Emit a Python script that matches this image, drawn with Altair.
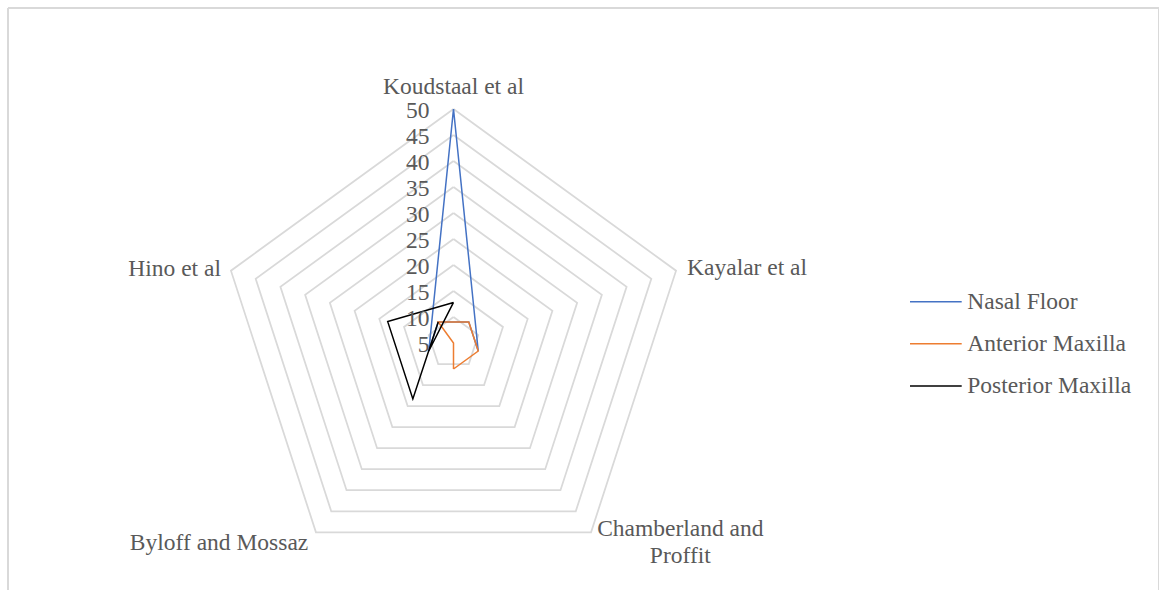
import math
import altair as alt
import pandas as pd

# ---------------- data ----------------
categories = ["Koudstaal et al", "Kayalar et al", "Chamberland and Proffit",
              "Byloff and Mossaz", "Hino et al"]
series_names = ["Nasal Floor", "Anterior Maxilla", "Posterior Maxilla"]
nasal_floor = [50, 0, 0, 0, 0]
anterior_maxilla = [0, 5, 0, 0, 0]
posterior_maxilla = [12.8, 0, 0, 18.3, 18.3]
tick_values = [5, 10, 15, 20, 25, 30, 35, 40, 45, 50]
axis_min, axis_max = 5, 50
colors = ["#4472C4", "#ED7D31", "#000000"]

# ---------------- layout / style ----------------
W, H = 1151, 582          # plot area
CX, CY, R = 445.5, 335.0, 234.0   # radar centre & radius inside plot area (px)
FONT = "Liberation Serif"
FS = 23.5
TXT = "#595959"
GRID = "#d9d9d9"

n = len(categories)


def polar(value, i):
    r = (value - axis_min) / (axis_max - axis_min)
    a = 2 * math.pi * i / n
    return r * math.sin(a), r * math.cos(a)


# series polygons
rows = []
for name, vals in zip(series_names, [nasal_floor, anterior_maxilla, posterior_maxilla]):
    for k in range(n + 1):
        i = k % n
        x, y = polar(vals[i], i)
        rows.append({"series": name, "category": categories[i], "value": vals[i],
                     "order": k, "x": x, "y": y})
series_df = pd.DataFrame(rows)

# grid polygons
grows = []
for t in tick_values[1:]:
    for k in range(n + 1):
        i = k % n
        x, y = polar(t, i)
        grows.append({"level": t, "order": k, "x": x, "y": y})
grid_df = pd.DataFrame(grows)

# tick labels
tick_df = pd.DataFrame({"label": [str(t) for t in tick_values],
                        "x": [polar(t, 0)[0] for t in tick_values],
                        "y": [polar(t, 0)[1] for t in tick_values]})

# category labels
display = {c: c for c in categories}
display["Chamberland and Proffit"] = "Chamberland and\nProffit"
cat_df = pd.DataFrame({"category": categories,
                       "text": [display[c] for c in categories],
                       "x": [polar(axis_max, i)[0] for i in range(n)],
                       "y": [polar(axis_max, i)[1] for i in range(n)]})

legend_df = pd.DataFrame({"series": series_names})

xs = alt.Scale(domain=[-CX / R, (W - CX) / R], nice=False, zero=False)
ys = alt.Scale(domain=[-(H - CY) / R, CY / R], nice=False, zero=False)
X = alt.X("x:Q", scale=xs, axis=None)
Y = alt.Y("y:Q", scale=ys, axis=None)
color = alt.Color("series:N", scale=alt.Scale(domain=series_names, range=colors), legend=None)

grid = alt.Chart(grid_df).mark_line(color=GRID, strokeWidth=1.75).encode(
    x=X, y=Y, detail="level:N", order="order:Q")

lines = alt.Chart(series_df).mark_line(strokeWidth=1.5).encode(
    x=X, y=Y, color=color, order="order:Q")

ticks = alt.Chart(tick_df).mark_text(
    align="right", baseline="middle", dx=-24, dy=2,
    font=FONT, fontSize=FS, color=TXT).encode(x=X, y=Y, text="label:N")

label_styles = {
    "Koudstaal et al": dict(align="center", baseline="middle", dx=0, dy=-22),
    "Kayalar et al": dict(align="left", baseline="middle", dx=11, dy=-2.5),
    "Chamberland and Proffit": dict(align="center", baseline="top", dx=89.3, dy=-15.6,
                                    lineBreak="\n", lineHeight=27.7),
    "Byloff and Mossaz": dict(align="right", baseline="middle", dx=-7.7, dy=10.7),
    "Hino et al": dict(align="right", baseline="middle", dx=-10, dy=-1.5),
}
cat_layers = []
for c in categories:
    cat_layers.append(
        alt.Chart(cat_df).transform_filter(alt.datum.category == c).mark_text(
            font=FONT, fontSize=FS, color=TXT, **label_styles[c]
        ).encode(x=X, y=Y, text="text:N"))

LY = alt.Y("series:N", scale=alt.Scale(type="point", domain=series_names,
                                       range=[293.7, 378], padding=0), axis=None)
leg_lines = alt.Chart(legend_df).mark_rule(strokeWidth=1.5).encode(
    x=alt.value(902), x2=alt.value(953.7), y=LY, color=color)
leg_text = alt.Chart(legend_df).mark_text(
    align="left", baseline="middle", font=FONT, fontSize=FS, color=TXT).encode(
    x=alt.value(959.3), y=LY, text="series:N")

frame_top = alt.Chart(legend_df).mark_rule(color=GRID, strokeWidth=1.5).encode(
    x=alt.value(0), x2=alt.value(W), y=alt.value(0))
frame_left = alt.Chart(legend_df).mark_rule(color=GRID, strokeWidth=1.5).encode(
    x=alt.value(0), y=alt.value(0), y2=alt.value(H + 10))
frame_right = alt.Chart(legend_df).mark_rule(color=GRID, strokeWidth=1.5).encode(
    x=alt.value(W), y=alt.value(0), y2=alt.value(H + 10))

chart = alt.layer(
    grid, lines, ticks, *cat_layers, leg_lines, leg_text,
    frame_top, frame_left, frame_right
).resolve_scale(y="independent").properties(
    width=W, height=H,
    padding={"left": 8, "top": 8, "right": 0, "bottom": 0},
    autosize=alt.AutoSizeParams(type="none"),
    background="white",
).configure_view(stroke=None)

chart.save("out.html", embed_options={"renderer": "svg", "actions": False})
